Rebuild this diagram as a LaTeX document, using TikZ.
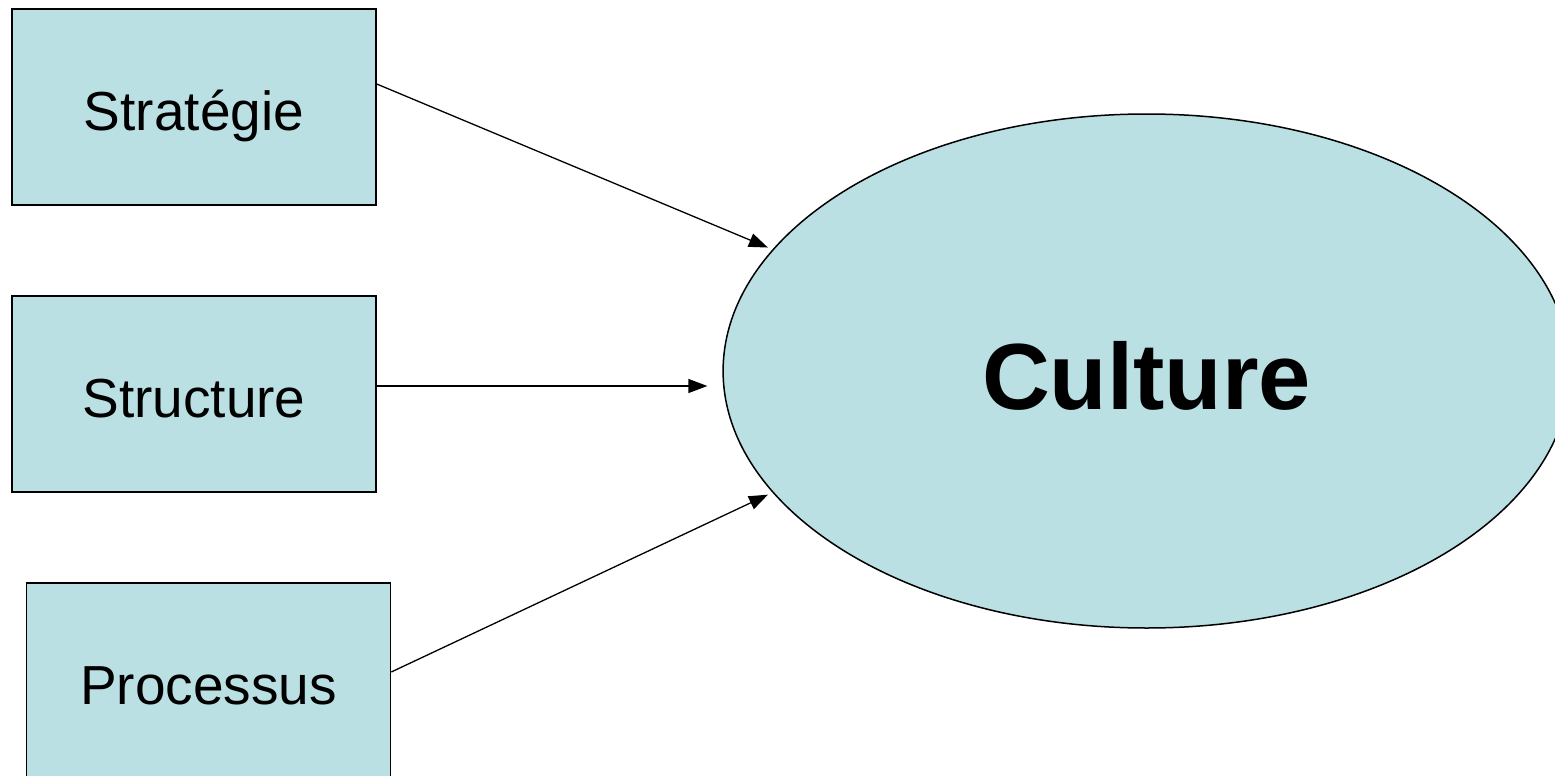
\documentclass[tikz,border=0pt]{standalone}
\usepackage{fontspec}
\setmainfont{Liberation Sans}
\usetikzlibrary{arrows.meta,shapes.geometric}
\definecolor{paleteal}{RGB}{186,224,227}
\tikzset{
  factor/.style={draw=black, line width=1.5pt, fill=paleteal, minimum width=364pt,
    minimum height=196pt, inner sep=0pt, text height=46pt, text depth=0pt,
    font=\fontsize{55}{66}\selectfont},
  core/.style={ellipse, draw=black, line width=1.5pt, fill=paleteal, minimum width=847pt,
    minimum height=514pt, inner sep=0pt},
  corelabel/.style={font=\fontsize{94}{110}\selectfont\bfseries},
  link/.style={draw=black, line width=1.3pt, -{Triangle[length=19pt,width=14pt]}}
}
\begin{document}
\begin{tikzpicture}[x=1pt,y=-1pt]
  \useasboundingbox (0,0) rectangle (1555,776);
  \clip (0,0) rectangle (1555,776);
  % three factors on the left
  \node[factor] (strat) at (194,107) {Stratégie};
  \node[factor] (struct) at (194,394) {Structure};
  \node[factor] (proc) at (208.5,681) {Processus};
  % central ellipse with its label
  \node[core] (cult) at (1146.6,371) {};
  \node[corelabel] (cultlabel) at ([yshift=-5pt]cult.center) {Culture};
  % influences
  \draw[link, shorten >=5pt] ([yshift=23pt]strat.east) -- (cult.162);
  \draw[link] ([yshift=8pt]struct.east) -- ([xshift=-15pt,yshift=-15pt]cult.west);
  \draw[link, shorten >=5pt] ([yshift=9pt]proc.east) -- (cult.198);
\end{tikzpicture}
\end{document}
